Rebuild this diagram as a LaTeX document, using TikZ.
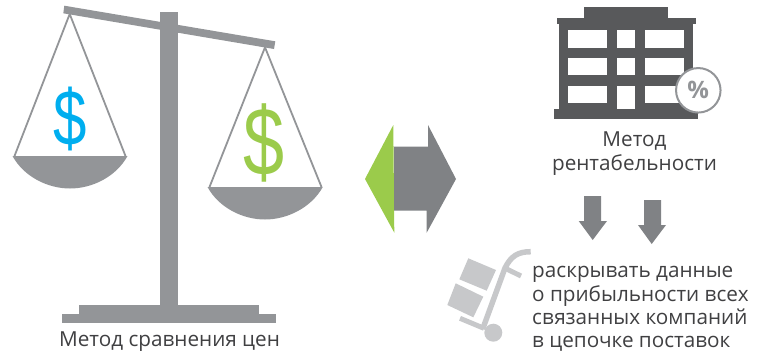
\documentclass[tikz,border=0pt]{standalone}
\usepackage{fontspec}
\setmainfont{Open Sans}
\newfontfamily\dollarfont{Liberation Sans}
\definecolor{scalegrey}{HTML}{939598}
\definecolor{arrowgrey}{HTML}{808285}
\definecolor{bldg}{HTML}{58595B}
\definecolor{cartgrey}{HTML}{C7C8CA}
\definecolor{txt}{HTML}{404042}
\definecolor{dblue}{HTML}{00AEEF}
\definecolor{dgreen}{HTML}{9BCB4B}
\tikzset{
  lbl/.style={text=txt,font=\fontsize{20.7}{24}\selectfont,inner sep=0pt},
  str/.style={draw=scalegrey,line width=1.8pt},
  dollar/.style={inner sep=0pt,xscale=0.76}
}
\begin{document}
\begin{tikzpicture}[x=1pt,y=-1pt]
\useasboundingbox (0,0) rectangle (766,354);
% scale
\fill[scalegrey] (64.3,5.7) -- (275.3,41.3) -- (274,49) -- (63.3,13.3) -- cycle;
\fill[scalegrey] (160,12) rectangle (178,305);
\fill[scalegrey] (79,305) rectangle (259,314);
\fill[scalegrey] (62,314) rectangle (276,323);
\coordinate (la) at (69.7,14);
\coordinate (ll) at (14.5,156);
\coordinate (lr) at (125.5,156);
\draw[str] (ll) -- (la) -- (lr);
\fill[scalegrey] (12.5,156) .. controls (24,177) and (48,188.5) .. (70,188.5) .. controls (92,188.5) and (116,177) .. (127.5,156) -- cycle;
\coordinate (ra) at (265,47.3);
\coordinate (rl) at (209.5,187);
\coordinate (rr) at (321.5,187);
\draw[str] (rl) -- (ra) -- (rr);
\fill[scalegrey] (207.5,187) .. controls (219,208) and (243,219.5) .. (265,219.5) .. controls (287,219.5) and (311,208) .. (322.8,187) -- cycle;
\node[dollar,text=dblue] (d1) at (70.5,118.5) {\fontsize{79}{79}\selectfont\dollarfont\$};
\node[dollar,text=dgreen] (d2) at (264,143) {\fontsize{97}{97}\selectfont\dollarfont\$};
\node[lbl,anchor=base] (t1) at (169.5,346.5) {Метод сравнения цен};
% double arrow
\fill[dgreen] (393.3,125) -- (365,179) -- (394.3,232.7) -- cycle;
\fill[arrowgrey] (394,146.7) -- (428,146.7) -- (428,125) -- (456,179) -- (426.7,232.7) -- (426.7,210.7) -- (394,210.7) -- cycle;
% building
\fill[bldg] (584.3,7.3) rectangle (668,18);
\fill[bldg] (556.7,18) rectangle (695.7,24);
\fill[bldg] (559.3,24) rectangle (693.3,109);
\fill[bldg] (554,108.7) rectangle (698.3,119.3);
\foreach \ya/\yb in {30/47.7,57.7/75.3,85.7/103.3}{
  \fill[white] (568.3,\ya) rectangle (607.3,\yb);
  \fill[white] (645,\ya) rectangle (684,\yb);
}
\fill[white] (617.3,30) rectangle (635,47.7);
\fill[white] (617.3,57.7) rectangle (635,75.3);
\fill[white] (617.3,85.7) rectangle (635,108.7);
\node[circle,draw=scalegrey,line width=2pt,fill=white,minimum size=44.5pt,inner sep=0pt] (pc) at (698.3,90.3) {};
\node[text=scalegrey,inner sep=0pt,font=\fontsize{24}{24}\selectfont\bfseries] (pt) at (698.3,90.3) {\%};
\node[lbl,anchor=base] (t2) at (634.5,146) {Метод};
\node[lbl,anchor=base] (t3) at (634.5,170) {рентабельности};
% down arrows
\fill[arrowgrey] (584,196) -- (601,196) -- (601,221) -- (607,221) -- (592.7,240) -- (578.7,221) -- (584,221) -- cycle;
\fill[arrowgrey] (644,200) -- (661,200) -- (661,225) -- (666,225) -- (651.7,244) -- (638,225) -- (644,225) -- cycle;
% cart
\fill[cartgrey] (468.3,258.3) -- (496,270) -- (486.7,290.7) -- (459.3,279.3) -- cycle;
\fill[cartgrey] (455.7,283.3) -- (483.3,296.7) -- (473.3,317.3) -- (447.3,305) -- cycle;
\draw[cartgrey,line width=5.5pt] (530.7,251.7) .. controls (518,251.7) and (511,256) .. (505,268) -- (482.7,329);
\draw[cartgrey,line width=5pt] (506.7,269) -- (521,276);
\draw[cartgrey,line width=5pt] (460,318.3) -- (484,328.3);
\fill[cartgrey] (493.3,332.7) circle (9);
\node[lbl,anchor=base west] (r1) at (532,277.3) {раскрывать данные};
\node[lbl,anchor=base west] (r2) at (532,301) {о прибыльности всех};
\node[lbl,anchor=base west] (r3) at (532,324) {связанных компаний};
\node[lbl,anchor=base west] (r4) at (532,347.5) {в цепочке поставок};
\end{tikzpicture}
\end{document}
